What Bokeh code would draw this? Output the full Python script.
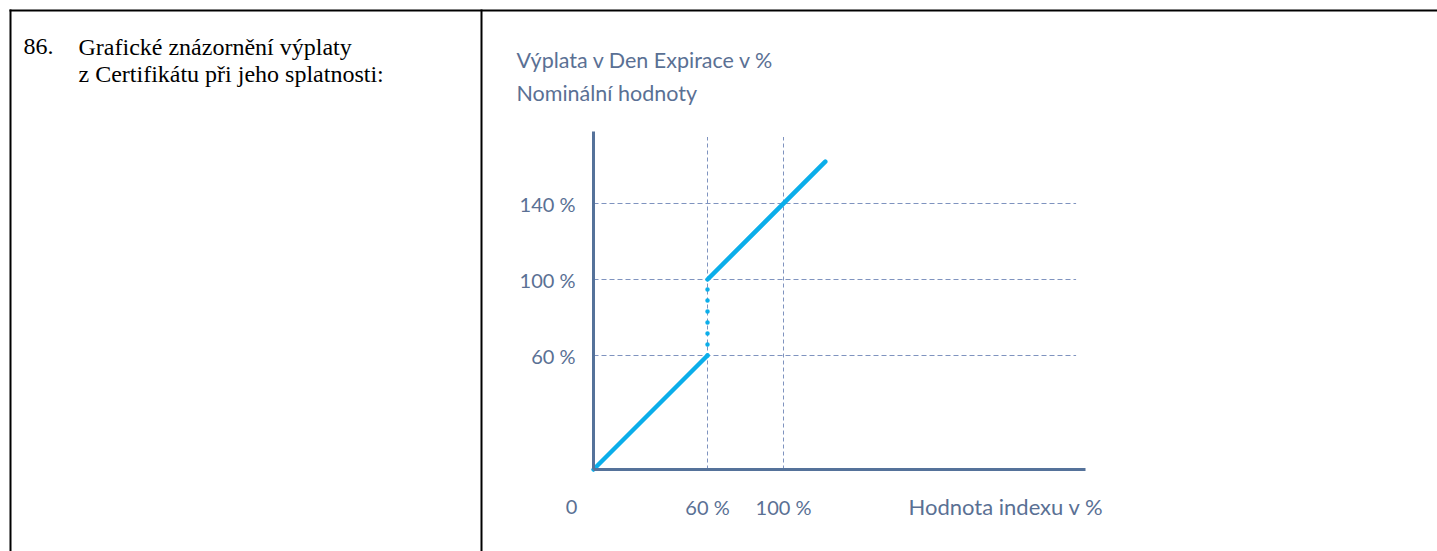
from bokeh.plotting import figure
from bokeh.models import FixedTicker, Range1d, LinearAxis
from bokeh.embed import file_html
from bokeh.resources import INLINE
from bokeh.core.properties import value

# ---- data ----
index_pct = [0, 60, 60, 122]      # hodnota indexu v %
payoff_pct = [0, 60, 100, 162]    # výplata v % nominální hodnoty
x_ticks = [60, 100]
x_tick_labels = ["60 %", "100 %"]
y_ticks = [60, 100, 140]
y_tick_labels = ["60 %", "100 %", "140 %"]
origin_label = "0"
x_title = "Hodnota indexu v %"
y_title = ["Výplata v Den Expirace v %", "Nominální hodnoty"]
item_no = "86."
item_text = ["Grafické znázornění výplaty", "z Certifikátu při jeho splatnosti:"]

# ---- layout / styles ----
W, H = 1437, 551
PX = 1.9            # pixels per percent
OX, OY = 593, 469   # pixel position of the chart origin
X_END, Y_END = 259, 178          # axis extents (%)
GX_END, GY_END = 254, 175        # grid extents (%)

LINE = "#0baeea"
AXIS = "#55729a"
GRID = "#7f93bf"
TXT = "#5a7094"
SANS = "Lato"
SERIF = "Liberation Serif"


def to_x(px):
    return (px - OX) / PX


def to_y(py):
    return (OY - py) / PX


p = figure(width=W, height=H, output_backend="svg", toolbar_location=None,
           x_range=Range1d(to_x(0), to_x(W)), y_range=Range1d(to_y(H), to_y(0)),
           x_axis_location=None, y_axis_location=None, min_border=0)
p.outline_line_color = None
p.xgrid.visible = False
p.ygrid.visible = False
p.background_fill_color = "white"
p.border_fill_color = "white"

# axes (lines only), anchored at the origin
for side, bounds, ticks in (("below", (0, X_END), x_ticks), ("left", (0, Y_END), y_ticks)):
    ax = LinearAxis(fixed_location=0, bounds=bounds, ticker=FixedTicker(ticks=ticks))
    ax.axis_line_color = AXIS
    ax.axis_line_width = 3
    ax.major_tick_line_color = None
    ax.minor_tick_line_color = None
    ax.major_tick_out = 0
    ax.major_tick_in = 0
    ax.minor_tick_out = 0
    ax.major_label_text_color = None
    p.add_layout(ax, side)

# dashed grid lines
p.segment(x0=[0] * len(y_ticks), x1=[GX_END] * len(y_ticks), y0=y_ticks, y1=y_ticks,
          line_color=GRID, line_width=1, line_dash="5 3")
p.segment(x0=x_ticks, x1=x_ticks, y0=[0] * len(x_ticks), y1=[GY_END] * len(x_ticks),
          line_color=GRID, line_width=1, line_dash="4 3")

# payoff lines
p.line(index_pct[:2], payoff_pct[:2], line_color=LINE, line_width=4.5, line_cap="round")
p.line(index_pct[2:], payoff_pct[2:], line_color=LINE, line_width=4.5, line_cap="round")
p.line(index_pct[1:3], payoff_pct[1:3], line_color=LINE, line_width=4.5,
       line_cap="round", line_dash="0 11")

# tick labels
p.text(x=[0] * len(y_ticks), y=y_ticks, text=y_tick_labels, x_offset=-18,
       text_align="right", text_baseline="middle", text_font=value(SANS),
       text_font_size=value("20px"), text_color=TXT)
p.text(x=x_ticks, y=[0] * len(x_ticks), text=x_tick_labels, y_offset=37,
       text_align="center", text_baseline="middle", text_font=value(SANS),
       text_font_size=value("20px"), text_color=TXT)
p.text(x=[0], y=[0], text=[origin_label], x_offset=-22, y_offset=37,
       text_align="center", text_baseline="middle", text_font=value(SANS),
       text_font_size=value("20px"), text_color=TXT)
p.text(x=[to_x(908)], y=[0], text=[x_title], y_offset=37,
       text_align="left", text_baseline="middle", text_font=value(SANS),
       text_font_size=value("22px"), text_color=TXT)

# axis title (top left of chart)
p.text(x=[to_x(516)] * 2, y=[to_y(59), to_y(92)], text=y_title,
       text_align="left", text_baseline="alphabetic", text_font=value(SANS),
       text_font_size=value("21.5px"), text_color=TXT)

# left table cell
p.text(x=[to_x(23), to_x(78), to_x(78)], y=[to_y(46), to_y(46), to_y(73)],
       text=[item_no] + item_text, text_align="left", text_baseline="alphabetic",
       text_font=value(SERIF), text_font_size=value("24px"), text_color="black")

# table borders
p.quad(left=[to_x(9), to_x(9), to_x(480)], right=[to_x(W), to_x(11), to_x(482)],
       top=[to_y(9)] * 3, bottom=[to_y(11), to_y(H), to_y(H)],
       fill_color="black", line_color=None)

open("out.html", "w").write(file_html(p, INLINE))
